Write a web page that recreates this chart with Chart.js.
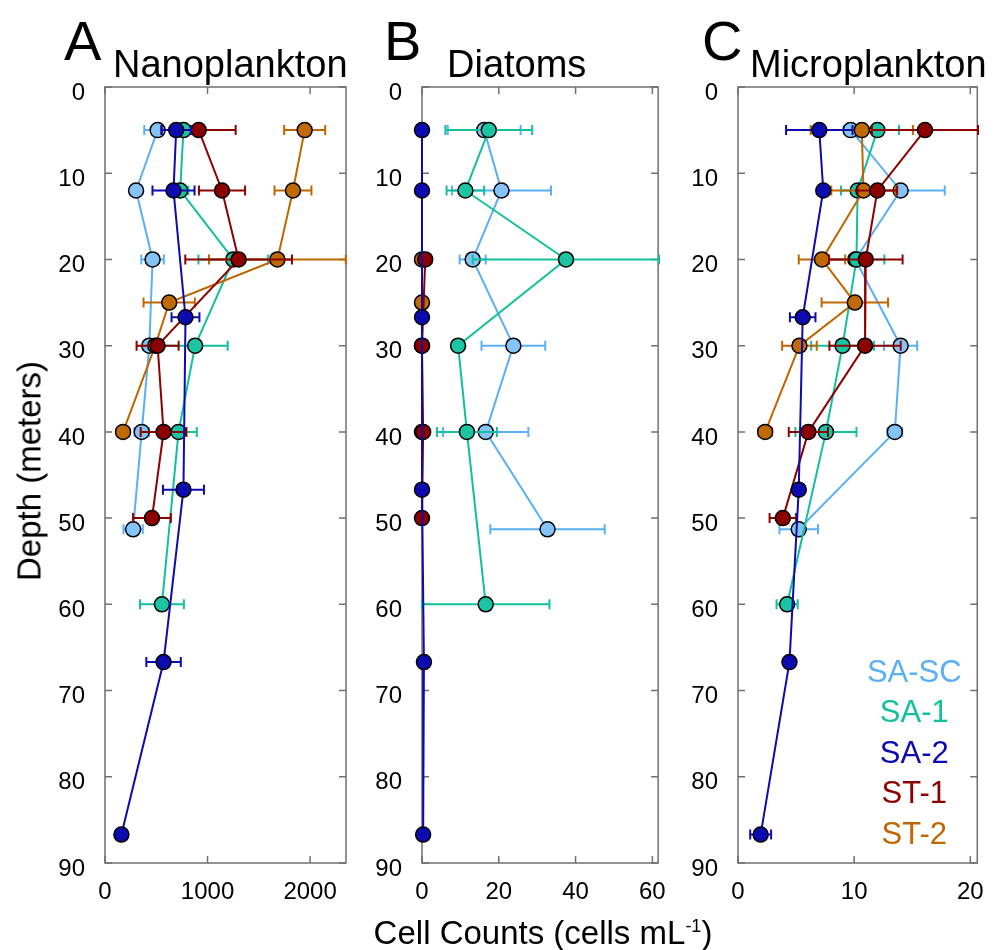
<!DOCTYPE html>
<html>
<head>
<meta charset="utf-8">
<script src="https://cdn.jsdelivr.net/npm/chart.js@4.4.1/dist/chart.umd.min.js"></script>
<style>
  body { margin: 0; background: #fff; font-family: "Liberation Sans", Arial, sans-serif; }
  #wrap { position: relative; width: 998px; height: 950px; overflow: hidden; }
  canvas { position: absolute; top: 0; }
  .txt { position: absolute; color: #000; white-space: nowrap; line-height: 1; }
</style>
</head>
<body>
<div id="wrap">
  <canvas id="chartA" width="313" height="950" style="left:45px"></canvas>
  <canvas id="chartB" width="311" height="950" style="left:362px"></canvas>
  <canvas id="chartC" width="313" height="950" style="left:678px"></canvas>

  <div class="txt" style="left:64px; top:13px; font-size:56px">A</div>
  <div class="txt" style="left:113px; top:45px; font-size:38px">Nanoplankton</div>
  <div class="txt" style="left:384px; top:13px; font-size:56px">B</div>
  <div class="txt" style="left:447px; top:45px; font-size:38px">Diatoms</div>
  <div class="txt" style="left:702px; top:13px; font-size:56px">C</div>
  <div class="txt" style="left:750px; top:45px; font-size:38px">Microplankton</div>

  <div class="txt" style="left:29px; top:471px; font-size:33px; transform:translate(-50%,-50%) rotate(-90deg)">Depth (meters)</div>
  <div class="txt" style="left:543px; top:932px; font-size:33px; transform:translate(-50%,-50%)">Cell Counts (cells mL<sup style="font-size:18px">-1</sup>)</div>
</div>

<script>
// depths (m) sampled for each station
const depthSASC = [5, 12, 20, 30, 40, 51.3];
const depthSA1  = [5, 12, 20, 30, 40, 60];
const depthSA2  = [5, 12, 26.7, 46.7, 66.7, 86.7];
const depthST1  = [5, 12, 20, 30, 40, 50];
const depthST2  = [5, 12, 20, 25, 30, 40];

// tick labels
const depthTicks = [0, 10, 20, 30, 40, 50, 60, 70, 80, 90];
const nanoTicks = [0, 1000, 2000];
const diaTicks = [0, 20, 40, 60];
const micTicks = [0, 10, 20];

// A - Nanoplankton (cells mL-1) and error half-widths
const nanoSASC = [513, 303, 464, 432, 358, 274];
const nanoSASCErr = [130, 50, 110, 60, 70, 94];
const nanoSA1 = [765, 733, 1251, 879, 717, 555];
const nanoSA1Err = [100, 80, 340, 317, 178, 214];
const nanoSA2 = [694, 668, 785, 765, 571, 160];
const nanoSA2Err = [145, 205, 136, 200, 168, 0];
const nanoST1 = [914, 1141, 1303, 513, 571, 458];
const nanoST1Err = [360, 225, 520, 205, 223, 184];
const nanoST2 = [1947, 1833, 1681, 626, 490, 176];
const nanoST2Err = [200, 180, 667, 250, 0, 60];

// B - Diatoms
const diaSASC = [16.2, 20.7, 13.2, 23.8, 16.6, 32.7];
const diaSASCErr = [9.5, 12.9, 3.4, 8.3, 11.1, 14.9];
const diaSA1 = [17.4, 11.3, 37.5, 9.4, 11.7, 16.6];
const diaSA1Err = [11.3, 4.9, 24.3, 0, 7.8, 16.6];
const diaSA2 = [0, 0, 0, 0, 0.5, 0.3];
const diaSA2Err = [0, 0, 0, 0, 0, 0];
const diaST1 = [null, null, 0.85, 0, 0.3, 0];
const diaST1Err = [0, 0, 0, 0, 0, 0];
const diaST2 = [null, null, 0, 0, 0, 0];
const diaST2Err = [0, 0, 0, 0, 0, 0];

// C - Microplankton
const micSASC = [9.7, 14.0, 10.1, 14.0, 13.5, 5.23];
const micSASCErr = [0.6, 3.8, 0.5, 1.43, 0.63, 1.66];
const micSA1 = [12.0, 10.3, 10.2, 9.0, 7.57, 4.23];
const micSA1Err = [1.86, 1.43, 2.4, 2.7, 2.63, 0.91];
const micSA2 = [7.0, 7.34, 5.57, 5.23, 4.43, 1.95];
const micSA2Err = [2.86, 0, 1.1, 0, 0, 0.9];
const micST1 = [16.1, 12.0, 11.0, 10.94, 6.06, 3.86];
const micST1Err = [4.57, 1.7, 3.17, 3.07, 1.69, 1.14];
const micST2 = [10.66, 10.8, 7.23, 10.06, 5.29, 2.34];
const micST2Err = [4.4, 2.77, 2.0, 2.86, 1.49, 0.57];

const stations = ['SA-SC', 'SA-1', 'SA-2', 'ST-1', 'ST-2'];
const lineColors = ['#5aaff5', '#12bf9e', '#0b0bb0', '#8c0000', '#c06600'];
const fillColors = ['#85c4f8', '#1cc4a4', '#0b0bb0', '#8c0000', '#c06a05'];
const depths = [depthSASC, depthSA1, depthSA2, depthST1, depthST2];
// draw order: first dataset ends on top in Chart.js
const paintOrder = [2, 3, 4, 1, 0];

const FONT = '"Liberation Sans", Arial, sans-serif';

// horizontal error bars, drawn under each dataset's own line and markers
const errorBars = {
  id: 'errorBars',
  beforeDatasetDraw(chart, args) {
    const { ctx, chartArea: a, scales: { x } } = chart;
    const ds = chart.data.datasets[args.index];
    const meta = args.meta;
    ctx.save();
    ctx.beginPath();
    ctx.rect(a.left - 2, a.top, a.right - a.left + 4, a.bottom - a.top);
    ctx.clip();
    ctx.strokeStyle = ds.borderColor;
    ctx.lineWidth = 2;
    ds.data.forEach((p, i) => {
      if (!p.e) return;
      const py = meta.data[i].y;
      const x1 = x.getPixelForValue(p.x - p.e);
      const x2 = x.getPixelForValue(p.x + p.e);
      ctx.beginPath();
      ctx.moveTo(x1, py); ctx.lineTo(x2, py);
      ctx.moveTo(x1, py - 5); ctx.lineTo(x1, py + 5);
      ctx.moveTo(x2, py - 5); ctx.lineTo(x2, py + 5);
      ctx.stroke();
    });
    ctx.restore();
  }
};

// MATLAB style box with inward ticks on all sides
const frameTicks = {
  id: 'frameTicks',
  beforeDatasetsDraw(chart) {
    const { ctx, chartArea: a, scales: { x, y } } = chart;
    ctx.save();
    ctx.strokeStyle = '#707070';
    ctx.lineWidth = 1.5;
    ctx.strokeRect(a.left, a.top, a.right - a.left, a.bottom - a.top);
    ctx.beginPath();
    x.ticks.forEach(t => {
      const px = x.getPixelForValue(t.value);
      ctx.moveTo(px, a.bottom); ctx.lineTo(px, a.bottom - 7);
      ctx.moveTo(px, a.top); ctx.lineTo(px, a.top + 7);
    });
    y.ticks.forEach(t => {
      const py = y.getPixelForValue(t.value);
      ctx.moveTo(a.left, py); ctx.lineTo(a.left + 7, py);
      ctx.moveTo(a.right, py); ctx.lineTo(a.right - 7, py);
    });
    ctx.stroke();
    ctx.restore();
  }
};

const textLegend = {
  id: 'textLegend',
  afterDraw(chart) {
    const { ctx, chartArea: a } = chart;
    ctx.save();
    ctx.font = '31px ' + FONT;
    ctx.textAlign = 'center';
    ctx.textBaseline = 'middle';
    stations.forEach((name, i) => {
      ctx.fillStyle = lineColors[i];
      ctx.fillText(name, a.right - 63, a.bottom - 190 + i * 40.5);
    });
    ctx.restore();
  }
};

function makeDatasets(values, errs) {
  return paintOrder.map(k => ({
    label: stations[k],
    data: depths[k].map((d, i) => ({ x: values[k][i], y: d, e: errs[k][i] }))
                   .filter(p => p.x !== null),
    borderColor: lineColors[k],
    backgroundColor: fillColors[k],
    pointBackgroundColor: fillColors[k],
    pointBorderColor: '#000',
    pointBorderWidth: 1.5,
    pointRadius: 7.5,
    borderWidth: 2,
    showLine: true,
    clip: false
  }));
}

function buildPanel(id, values, errs, xMax, xTicks, withLegend) {
  const plugins = [frameTicks, errorBars];
  if (withLegend) plugins.push(textLegend);
  new Chart(document.getElementById(id), {
    type: 'scatter',
    data: { datasets: makeDatasets(values, errs) },
    plugins: plugins,
    options: {
      responsive: false,
      animation: false,
      events: [],
      layout: { padding: { top: 87, right: 12, bottom: 47, left: 0 } },
      plugins: { legend: { display: false }, tooltip: { enabled: false } },
      scales: {
        x: {
          type: 'linear', min: 0, max: xMax,
          grid: { display: false }, border: { display: false },
          afterBuildTicks: s => { s.ticks = xTicks.map(v => ({ value: v })); },
          ticks: { autoSkip: false, maxRotation: 0, color: '#000', padding: 7,
                   callback: v => String(v), font: { size: 24, family: FONT } },
          afterFit: s => { s.height = 40; }
        },
        y: {
          type: 'linear', reverse: true, min: 0, max: 90,
          grid: { display: false }, border: { display: false },
          afterBuildTicks: s => { s.ticks = depthTicks.map(v => ({ value: v })); },
          ticks: { autoSkip: false, color: '#000', padding: 12, labelOffset: 6,
                   callback: v => String(v), font: { size: 24, family: FONT } },
          afterFit: s => { s.width = 60; }
        }
      }
    }
  });
}

buildPanel('chartA',
  [nanoSASC, nanoSA1, nanoSA2, nanoST1, nanoST2],
  [nanoSASCErr, nanoSA1Err, nanoSA2Err, nanoST1Err, nanoST2Err], 2350, nanoTicks, false);
buildPanel('chartB',
  [diaSASC, diaSA1, diaSA2, diaST1, diaST2],
  [diaSASCErr, diaSA1Err, diaSA2Err, diaST1Err, diaST2Err], 61.5, diaTicks, false);
buildPanel('chartC',
  [micSASC, micSA1, micSA2, micST1, micST2],
  [micSASCErr, micSA1Err, micSA2Err, micST1Err, micST2Err], 20.6, micTicks, true);
</script>
</body>
</html>
